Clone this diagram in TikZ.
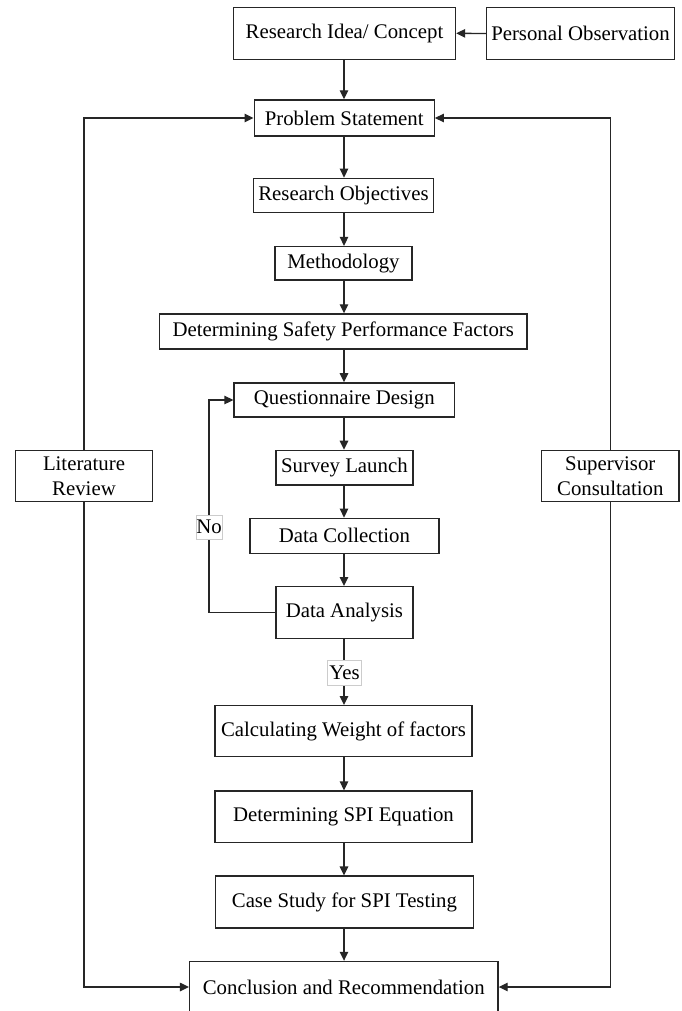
\documentclass[tikz,border=0pt]{standalone}
\usepackage{fontspec}
\setmainfont{Liberation Serif}
\usetikzlibrary{arrows.meta}
\begin{document}
\begin{tikzpicture}[x=1pt,y=-1pt,
  box/.style={draw=black!85, line width=1.4pt, inner sep=0pt, align=center,
    font=\fontsize{20.8}{24.3}\selectfont},
  arr/.style={draw=black!85, line width=1.3pt, -{Triangle[length=9pt,width=8.5pt]}},
  lbl/.style={draw=black!20, fill=white, line width=0.8pt, inner sep=0pt,
    font=\fontsize{20.8}{24.3}\selectfont}]
\useasboundingbox (0,0) rectangle (681,1011);
\fill[white] (0,0) rectangle (681,1011);

\node[box, minimum width=222pt, minimum height=52pt] (RI) at (344.5,33.3) {Research Idea/ Concept};
\node[box, minimum width=188pt, minimum height=52pt] (PO) at (580.5,33.5) {Personal Observation};
\node[box, minimum width=180pt, minimum height=36pt] (PS) at (344.2,118) {Problem Statement};
\node[box, minimum width=180pt, minimum height=34pt] (RO) at (343.5,195.3) {Research Objectives};
\node[box, minimum width=137pt, minimum height=33.5pt] (ME) at (343.5,263.3) {Methodology};
\node[box, minimum width=367.4pt, minimum height=35pt] (DF) at (343.2,331.5) {Determining Safety Performance Factors};
\node[box, minimum width=220.5pt, minimum height=34.3pt] (QD) at (344.3,400) {Questionnaire Design};
\node[box, minimum width=137.2pt, minimum height=34.7pt] (SL) at (344.4,467.7) {Survey Launch};
\node[box, minimum width=188.8pt, minimum height=35pt] (DC) at (344.4,535.8) {Data Collection};
\node[box, minimum width=137.2pt, minimum height=51.6pt] (DA) at (344.4,612.5) {Data Analysis};
\node[box, minimum width=256.7pt, minimum height=51pt] (CW) at (343.5,731.2) {Calculating Weight of factors};
\node[box, minimum width=256.7pt, minimum height=51.3pt] (DS) at (343.5,816.7) {Determining SPI Equation};
\node[box, minimum width=258pt, minimum height=51.7pt] (CS) at (344.4,902) {Case Study for SPI Testing};
\node[box, minimum width=308.4pt, minimum height=51pt] (CO) at (343.8,987) {Conclusion and Recommendation};
\node[box, minimum width=137.2pt, minimum height=51pt] (LR) at (84,476.2) {Literature\\Review};
\node[box, minimum width=137.3pt, minimum height=51pt] (SC) at (610.3,476.2) {Supervisor\\Consultation};

\draw[arr] (PO.west) -- (RI.east);
\coordinate (mx) at (344,0);
\foreach \a/\b in {RI/PS, PS/RO, RO/ME, ME/DF, DF/QD, QD/SL, SL/DC, DC/DA, DA/CW, CW/DS, DS/CS, CS/CO}
  \draw[arr] (mx |- \a.south) -- (mx |- \b.north);

\draw[arr] (LR.north) |- (PS.west);
\draw[arr] (LR.south) |- (CO.west);
\draw[arr] (SC.north) |- (PS.east);
\draw[arr] (SC.south) |- (CO.east);

\coordinate (lp) at (209,612.5);
\draw[arr] (DA.west) -- (lp) |- (QD.west);

\node[lbl, minimum width=26pt, minimum height=24pt] (no) at (209,527) {No};
\node[lbl, minimum width=34pt, minimum height=25pt] (yes) at (344.5,672.5) {Yes};
\end{tikzpicture}
\end{document}
